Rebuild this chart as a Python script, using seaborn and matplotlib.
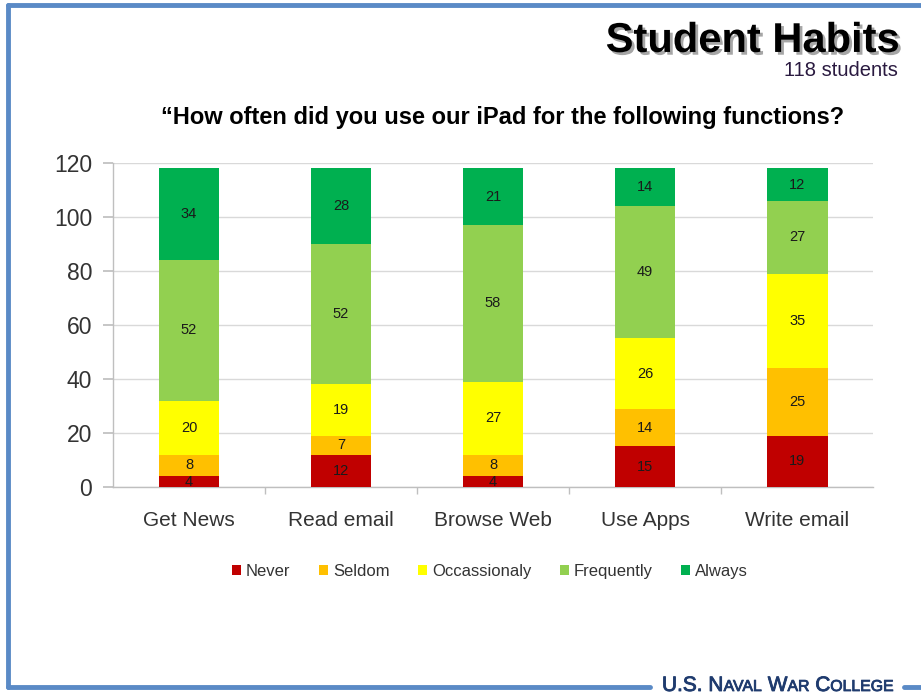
import matplotlib

matplotlib.use("Agg")
import matplotlib.patheffects as pe
import matplotlib.pyplot as plt
import numpy as np
import pandas as pd
import seaborn as sns
from matplotlib.lines import Line2D
from matplotlib.patches import Patch

# Datos (118 estudiantes)
functions = ["Get News", "Read email", "Browse Web", "Use Apps", "Write email"]
levels = ["Never", "Seldom", "Occassionaly", "Frequently", "Always"]
never = [4, 12, 4, 15, 19]
seldom = [8, 7, 8, 14, 25]
occasionally = [20, 19, 27, 26, 35]
frequently = [52, 52, 58, 49, 27]
always = [34, 28, 21, 14, 12]
colors = ["#C00000", "#FFC000", "#FFFF00", "#92D050", "#00B050"]
y_ticks = [0, 20, 40, 60, 80, 100, 120]

df = pd.DataFrame(
    {"function": functions, "Never": never, "Seldom": seldom,
     "Occassionaly": occasionally, "Frequently": frequently, "Always": always}
)

sns.set_theme(style="white")
plt.rcParams["font.family"] = ["Liberation Sans", "DejaVu Sans"]

W, H = 921, 694
fig = plt.figure(figsize=(W / 100, H / 100), dpi=100)
ax = fig.add_axes([0.1227, 0.2983, 0.8253, 0.4668])

bottom = np.zeros(len(functions))
for lev, col in zip(levels, colors):
    vals = df[lev].to_numpy()
    sns.barplot(x=df["function"], y=vals, bottom=bottom, color=col, width=0.4,
                saturation=1, ax=ax, edgecolor="none", linewidth=0, zorder=3)
    for i, v in enumerate(vals):
        ax.text(i, bottom[i] + v / 2, str(v), ha="center", va="center",
                fontsize=10.5, color="#1a1a1a", zorder=4)
    bottom = bottom + vals

ax.set_xlim(-0.5, len(functions) - 0.5)
ax.set_ylim(0, 120)
ax.set_yticks(y_ticks)
ax.set_xlabel("")
ax.set_ylabel("")
ax.yaxis.grid(True, color="#D9D9D9", linewidth=1, zorder=0)
ax.set_axisbelow(True)
for side in ["top", "right"]:
    ax.spines[side].set_visible(False)
for side in ["left", "bottom"]:
    ax.spines[side].set_color("#BFBFBF")
    ax.spines[side].set_linewidth(1)
ax.tick_params(axis="y", which="major", left=True, length=7, color="#BFBFBF",
               labelsize=16.5, labelcolor="#333333", pad=8)
ax.tick_params(axis="x", which="major", bottom=False, labelsize=15,
               labelcolor="#333333", pad=11)
ax.set_xticks(np.arange(len(functions) - 1) + 0.5, minor=True)
ax.tick_params(axis="x", which="minor", bottom=True, length=5, color="#BFBFBF")

handles = [Patch(facecolor=c, edgecolor="none") for c in colors]
fig.legend(handles, levels, loc="center", bbox_to_anchor=(0.532, 0.177), ncol=5,
           frameon=False, fontsize=12, handlelength=0.55, handleheight=0.55,
           handletextpad=0.3, columnspacing=1.7, labelcolor="#333333")

# Títulos
fig.text(0.977, 0.941, "Student Habits", ha="right", va="center", fontsize=30,
         fontweight="bold", color="black",
         path_effects=[pe.SimplePatchShadow(offset=(2, -2), shadow_rgbFace="#808080",
                                            alpha=0.7), pe.Normal()])
fig.text(0.975, 0.898, "118 students", ha="right", va="center", fontsize=14.5,
         color="#2a1a40")
fig.text(0.546, 0.830, "\u201cHow often did you use our iPad for the following functions?",
         ha="center", va="center", fontsize=17, fontweight="bold", color="black")

# Marco azul de la diapositiva
blue = "#5A8AC6"
fig.add_artist(Line2D([0.0087, 1.0], [0.9928, 0.9928], color=blue, lw=3.5))
fig.add_artist(Line2D([0.0087, 0.0087], [0.0101, 0.9928], color=blue, lw=3.5))
fig.add_artist(Line2D([0.0087, 0.706], [0.0101, 0.0101], color=blue, lw=3.5))
fig.add_artist(Line2D([0.982, 1.0], [0.0101, 0.0101], color=blue, lw=3.5))

# Pie "U.S. Naval War College" en versalitas (mayúsculas grandes + pequeñas)
navy = "#1F3B6E"
pieces = [("U.S. N", 15), ("AVAL", 11.4), (" W", 15), ("AR", 11.4),
          (" C", 15), ("OLLEGE", 11.4)]
renderer = fig.canvas.get_renderer()
x_px = 662
base_y = 3 / H
for txt, size in pieces:
    t = fig.text(x_px / W, base_y, txt, ha="left", va="baseline", fontsize=size,
                 color=navy, path_effects=[pe.withStroke(linewidth=0.6, foreground=navy)])
    x_px = t.get_window_extent(renderer).x1

fig.savefig("out.png", dpi=100, facecolor="white")
